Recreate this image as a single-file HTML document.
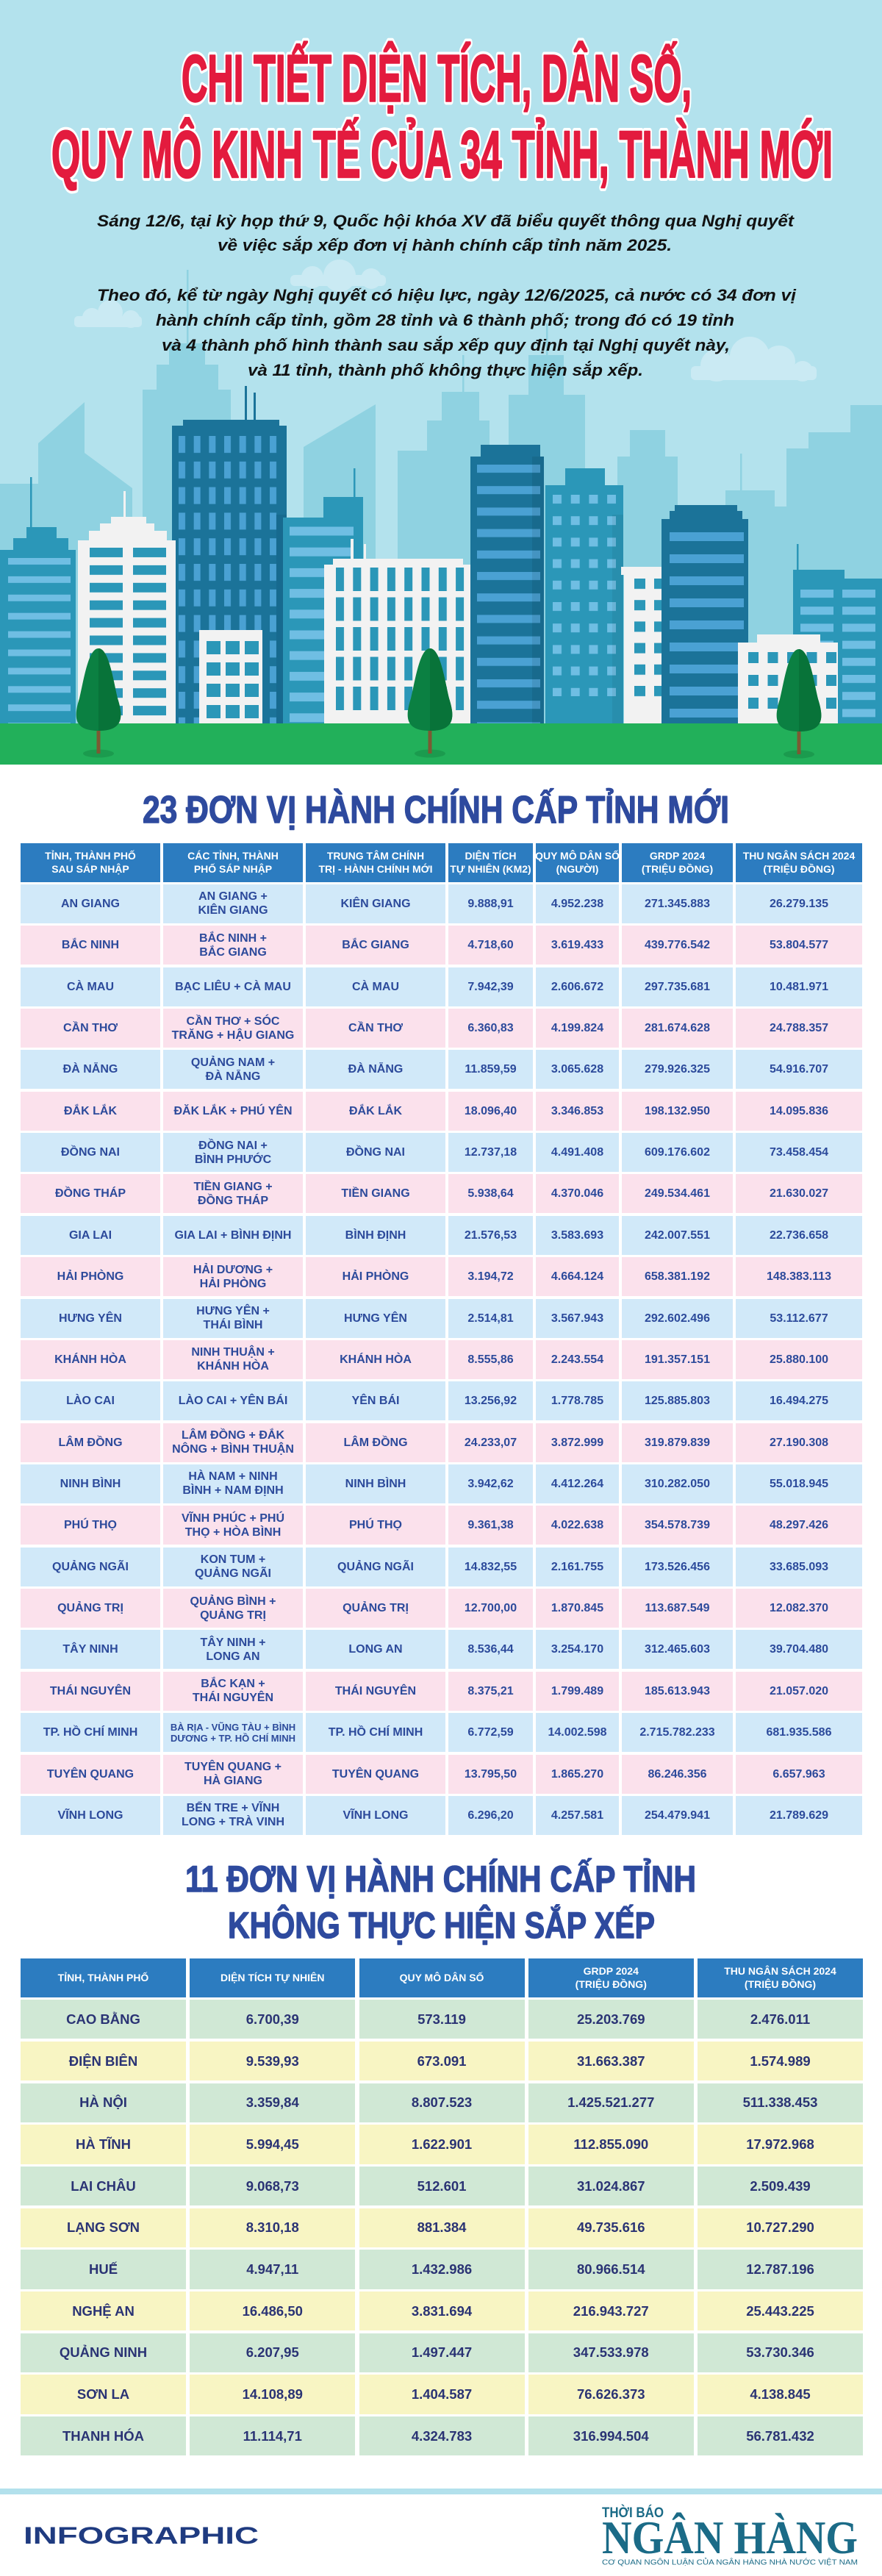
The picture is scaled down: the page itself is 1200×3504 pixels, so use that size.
<!DOCTYPE html>
<html lang="vi">
<head>
<meta charset="utf-8">
<style>
html,body{margin:0;padding:0;}
body{width:1200px;height:3504px;position:relative;overflow:hidden;background:#fff;font-family:"Liberation Sans","Noto Sans CJK SC",sans-serif;}
svg.bg{position:absolute;left:0;top:0;}
.grid{position:absolute;display:grid;}
.t1{left:28px;top:1146.6px;grid-template-columns:190px 190px 190px 115px 113px 151px 172px;column-gap:4px;row-gap:3.36px;grid-auto-rows:53px;}
.t2{left:28px;top:2663.5px;grid-template-columns:225px 225px 225px 225px 225px;column-gap:5.25px;row-gap:3.4px;grid-auto-rows:53.3px;}
.h,.r>div{display:flex;align-items:center;justify-content:center;text-align:center;white-space:nowrap;font-weight:bold;}
.h{background:#2c7cc0;color:#fff;font-size:14px;line-height:18px;}
.r{display:contents;}
.t1 .r>div{font-size:16px;line-height:19px;color:#2c4a9b;}
.t1 .b>div{background:#d1e9f9;}
.t1 .p>div{background:#fbe1ec;}
.t1 .r>div.s{font-size:13px;line-height:15px;}
.t2 .r>div{font-size:18.5px;line-height:22px;color:#2a3374;}
.t2 .g>div{background:#d0e8d5;}
.t2 .y>div{background:#f8f5c3;}
</style>
</head>
<body>
<svg class="bg" width="1200" height="3504" viewBox="0 0 1200 3504" xmlns="http://www.w3.org/2000/svg">
<defs>
<pattern id="pTall" patternUnits="userSpaceOnUse" x="243" y="593" width="20.67" height="34.8"><rect width="9" height="23" fill="#4aa1d3"/></pattern>
<pattern id="pLeft" patternUnits="userSpaceOnUse" x="11" y="759" width="200" height="24.9"><rect width="85" height="9" fill="#6fbee3"/></pattern>
<pattern id="pWL" patternUnits="userSpaceOnUse" x="122" y="745" width="59" height="23.9"><rect width="45" height="13" fill="#2b97b8"/></pattern>
<pattern id="pMid" patternUnits="userSpaceOnUse" x="394" y="716.5" width="200" height="28.2"><rect width="87" height="12" fill="#6fbee3"/></pattern>
<pattern id="pSW" patternUnits="userSpaceOnUse" x="281" y="872" width="26" height="29"><rect width="19" height="18" fill="#2b97b8"/></pattern>
<pattern id="pCW" patternUnits="userSpaceOnUse" x="457" y="772" width="23.3" height="40.5"><rect width="11" height="32" fill="#2b97b8"/></pattern>
<pattern id="pD2" patternUnits="userSpaceOnUse" x="649" y="632" width="200" height="29.2"><rect width="86" height="11" fill="#4aa1d3"/></pattern>
<pattern id="pTe" patternUnits="userSpaceOnUse" x="752" y="673" width="24.7" height="29.2"><rect width="12" height="12" fill="#6fbee3"/></pattern>
<pattern id="pNW" patternUnits="userSpaceOnUse" x="863" y="787" width="27" height="29.2"><rect width="15" height="14" fill="#2b97b8"/></pattern>
<pattern id="pD3" patternUnits="userSpaceOnUse" x="911" y="724" width="200" height="30"><rect width="101" height="12" fill="#4aa1d3"/></pattern>
<pattern id="pWR" patternUnits="userSpaceOnUse" x="1018" y="887" width="26.5" height="31"><rect width="14" height="15" fill="#2b97b8"/></pattern>
<pattern id="pR" patternUnits="userSpaceOnUse" x="1089" y="802" width="57" height="23.2"><rect width="45" height="11" fill="#6fbee3"/></pattern>
<g id="tree">
<ellipse cx="0" cy="1025" rx="21" ry="5.5" fill="#1b9b4e"/>
<rect x="-2.5" y="985" width="5" height="40" fill="#7b5a33"/>
<path d="M0,882 C14,882 20,925 26,950 C34,975 34,994 0,994 C-34,994 -34,975 -26,950 C-20,925 -14,882 0,882 Z" fill="#0b8042"/>
<path d="M0,882 C14,882 20,925 26,950 C34,975 34,994 0,994 Z" fill="#087339"/>
</g>
</defs>

<!-- sky -->
<rect x="0" y="0" width="1200" height="1040" fill="#b3e2ed"/>

<!-- clouds -->
<g fill="#caeaf3">
<rect x="395" y="374" width="130" height="15" rx="6"/>
<circle cx="425" cy="377" r="15"/><circle cx="462" cy="375" r="22"/><circle cx="505" cy="379" r="14"/>
<rect x="101" y="430" width="92" height="15" rx="5"/>
<circle cx="125" cy="432" r="13"/><circle cx="150" cy="425" r="17"/><circle cx="178" cy="434" r="12"/>
<rect x="940" y="498" width="171" height="19" rx="6"/>
<circle cx="975" cy="497" r="22"/><circle cx="1020" cy="485" r="27"/><circle cx="1060" cy="492" r="22"/><circle cx="1092" cy="505" r="14"/>
</g>

<!-- far buildings -->
<g fill="#8fd2e1">
<rect x="0" y="658" width="52" height="330"/>
<polygon points="52,603 115,547 115,990 52,990"/>
<polygon points="115,616 180,664 180,990 115,990"/>
<rect x="194" y="530" width="120" height="460"/>
<rect x="213" y="496" width="84" height="40"/>
<rect x="230" y="467" width="49" height="40"/>
<rect x="254" y="367" width="2.5" height="102"/>
<polygon points="413,608 511,550 511,990 413,990"/>
<rect x="541" y="613" width="41" height="377"/>
<rect x="581" y="572" width="85" height="418"/>
<rect x="601" y="533" width="51" height="45"/>
<rect x="629" y="483" width="2.5" height="52"/>
<rect x="692" y="537" width="104" height="453"/>
<rect x="719" y="483" width="48" height="60"/>
<rect x="743" y="440" width="2.5" height="45"/>
<rect x="840" y="621" width="82" height="369"/>
<rect x="857" y="585" width="48" height="40"/>
<rect x="987" y="667" width="67" height="323"/>
<rect x="1007" y="617" width="2.5" height="52"/>
<rect x="1054" y="689" width="18" height="300"/>
<rect x="1070" y="610" width="130" height="380"/>
<rect x="1100" y="588" width="100" height="30"/>
<rect x="1157" y="551" width="43" height="40"/>
</g>

<!-- left teal building -->
<rect x="41" y="649" width="2.5" height="70" fill="#2b97b8"/>
<rect x="36" y="717" width="41" height="20" fill="#2b97b8"/>
<rect x="18" y="732" width="75" height="20" fill="#2b97b8"/>
<rect x="0" y="748" width="103" height="240" fill="#2b97b8"/>
<rect x="11" y="759" width="85" height="225" fill="url(#pLeft)"/>

<!-- tall dark building -->
<rect x="333" y="525" width="3" height="50" fill="#1b7399"/>
<rect x="345" y="534" width="3" height="40" fill="#1b7399"/>
<rect x="249" y="571" width="131" height="12" fill="#1b7399"/>
<rect x="234" y="579" width="156" height="410" fill="#1b7399"/>
<rect x="243" y="593" width="134" height="391" fill="url(#pTall)"/>
<rect x="376" y="700" width="14" height="290" fill="#176a8f"/>

<!-- white left building -->
<rect x="168" y="668" width="3" height="40" fill="#f2f2f2"/>
<rect x="151" y="703" width="48" height="12" fill="#f2f2f2"/>
<rect x="136" y="712" width="74" height="14" fill="#f2f2f2"/>
<rect x="121" y="722" width="106" height="16" fill="#f2f2f2"/>
<rect x="106" y="735" width="133" height="253" fill="#f2f2f2"/>
<rect x="122" y="745" width="105" height="230" fill="url(#pWL)"/>

<!-- mid teal building -->
<rect x="481" y="637" width="2.5" height="42" fill="#2b97b8"/>
<rect x="440" y="676" width="54" height="32" fill="#2b97b8"/>
<rect x="385" y="704" width="109" height="284" fill="#2b97b8"/>
<rect x="394" y="716" width="87" height="268" fill="url(#pMid)"/>

<!-- small white building -->
<rect x="271" y="857" width="86" height="131" fill="#f2f2f2"/>
<rect x="281" y="872" width="71" height="105" fill="url(#pSW)"/>

<!-- center white building -->
<rect x="477" y="733" width="4" height="32" fill="#f2f2f2"/>
<rect x="495" y="740" width="3" height="25" fill="#f2f2f2"/>
<rect x="453" y="760" width="177" height="12" fill="#f2f2f2"/>
<rect x="441" y="768" width="203" height="220" fill="#f2f2f2"/>
<rect x="457" y="772" width="175" height="194" fill="url(#pCW)"/>

<!-- dark building 2 -->
<rect x="654" y="605" width="81" height="20" fill="#1b7399"/>
<rect x="640" y="621" width="100" height="367" fill="#1b7399"/>
<rect x="649" y="632" width="86" height="352" fill="url(#pD2)"/>
<rect x="724" y="621" width="16" height="367" fill="#000" opacity="0.08"/>

<!-- teal building -->
<rect x="769" y="637" width="54" height="27" fill="#2b97b8"/>
<rect x="742" y="660" width="106" height="328" fill="#2b97b8"/>
<rect x="752" y="673" width="86" height="274" fill="url(#pTe)"/>
<rect x="833" y="700" width="15" height="288" fill="#000" opacity="0.06"/>

<!-- narrow white building -->
<rect x="845" y="771" width="75" height="11" fill="#f2f2f2"/>
<rect x="849" y="781" width="67" height="207" fill="#f2f2f2"/>
<rect x="863" y="787" width="42" height="161" fill="url(#pNW)"/>

<!-- dark building 3 -->
<rect x="918" y="687" width="85" height="12" fill="#1b7399"/>
<rect x="911" y="695" width="99" height="14" fill="#1b7399"/>
<rect x="900" y="706" width="118" height="282" fill="#1b7399"/>
<rect x="911" y="724" width="101" height="260" fill="url(#pD3)"/>

<!-- right teal building -->
<rect x="1084" y="740" width="2.5" height="38" fill="#2b97b8"/>
<rect x="1079" y="775" width="70" height="213" fill="#2b97b8"/>
<rect x="1147" y="787" width="53" height="201" fill="#2b97b8"/>
<rect x="1089" y="802" width="105" height="182" fill="url(#pR)"/>

<!-- white right building -->
<rect x="1030" y="863" width="86" height="14" fill="#f2f2f2"/>
<rect x="1004" y="874" width="136" height="114" fill="#f2f2f2"/>
<rect x="1018" y="887" width="120" height="80" fill="url(#pWR)"/>

<!-- ground -->
<rect x="0" y="984" width="1200" height="56" fill="#22b05a"/>

<!-- trees -->
<use href="#tree" x="134" y="0"/>
<use href="#tree" x="585" y="0"/>
<use href="#tree" x="1087" y="1"/>

<!-- main title -->
<g font-family="Liberation Sans, sans-serif" font-weight="bold" font-size="90" text-anchor="middle" stroke-linejoin="round">
<text x="594" y="137.5" textLength="694" lengthAdjust="spacingAndGlyphs" fill="#fff" stroke="#fff" stroke-width="10">CHI TIẾT DIỆN TÍCH, DÂN SỐ,</text>
<text x="594" y="137.5" textLength="694" lengthAdjust="spacingAndGlyphs" fill="#e31b3e" stroke="#e31b3e" stroke-width="2.5">CHI TIẾT DIỆN TÍCH, DÂN SỐ,</text>
<text x="601.5" y="241" textLength="1063" lengthAdjust="spacingAndGlyphs" fill="#fff" stroke="#fff" stroke-width="10">QUY MÔ KINH TẾ CỦA 34 TỈNH, THÀNH MỚI</text>
<text x="601.5" y="241" textLength="1063" lengthAdjust="spacingAndGlyphs" fill="#e31b3e" stroke="#e31b3e" stroke-width="2.5">QUY MÔ KINH TẾ CỦA 34 TỈNH, THÀNH MỚI</text>
</g>

<!-- intro text -->
<g font-family="Liberation Sans, sans-serif" font-weight="bold" font-style="italic" font-size="22" text-anchor="middle" fill="#111">
<text x="606" y="308" textLength="948" lengthAdjust="spacingAndGlyphs">Sáng 12/6, tại kỳ họp thứ 9, Quốc hội khóa XV đã biểu quyết thông qua Nghị quyết</text>
<text x="605" y="341" textLength="618" lengthAdjust="spacingAndGlyphs">về việc sắp xếp đơn vị hành chính cấp tỉnh năm 2025.</text>
<text x="607.5" y="409" textLength="951" lengthAdjust="spacingAndGlyphs">Theo đó, kể từ ngày Nghị quyết có hiệu lực, ngày 12/6/2025, cả nước có 34 đơn vị</text>
<text x="605.5" y="443" textLength="787" lengthAdjust="spacingAndGlyphs">hành chính cấp tỉnh, gồm 28 tỉnh và 6 thành phố; trong đó có 19 tỉnh</text>
<text x="606.5" y="477" textLength="773" lengthAdjust="spacingAndGlyphs">và 4 thành phố hình thành sau sắp xếp quy định tại Nghị quyết này,</text>
<text x="606" y="511" textLength="538" lengthAdjust="spacingAndGlyphs">và 11 tỉnh, thành phố không thực hiện sắp xếp.</text>
</g>

<!-- section titles -->
<g font-family="Liberation Sans, sans-serif" font-weight="bold" text-anchor="middle" fill="#2e4a9e" stroke="#2e4a9e" stroke-width="1.4" stroke-linejoin="round">
<text x="593" y="1119" font-size="52" textLength="798" lengthAdjust="spacingAndGlyphs">23 ĐƠN VỊ HÀNH CHÍNH CẤP TỈNH MỚI</text>
<text x="599.5" y="2573" font-size="50" textLength="695" lengthAdjust="spacingAndGlyphs">11 ĐƠN VỊ HÀNH CHÍNH CẤP TỈNH</text>
<text x="600.5" y="2636" font-size="50" textLength="581" lengthAdjust="spacingAndGlyphs">KHÔNG THỰC HIỆN SẮP XẾP</text>
</g>

<!-- footer -->
<rect x="0" y="3385" width="1200" height="8" fill="#b3e1ec"/>
<text x="32" y="3460" font-family="Liberation Sans, sans-serif" font-weight="bold" font-size="32" textLength="320" lengthAdjust="spacingAndGlyphs" fill="#1f3b80">INFOGRAPHIC</text>
<text x="819" y="3424" font-family="Liberation Sans, sans-serif" font-weight="bold" font-size="19" textLength="84" lengthAdjust="spacingAndGlyphs" fill="#1b6b87">THỜI BÁO</text>
<text x="819" y="3473" font-family="Liberation Serif, serif" font-weight="bold" font-size="64" textLength="348" lengthAdjust="spacingAndGlyphs" fill="#1b6b87">NGÂN HÀNG</text>
<text x="819" y="3488.5" font-family="Liberation Sans, sans-serif" font-size="10.5" textLength="348" lengthAdjust="spacingAndGlyphs" fill="#1b6b87">CƠ QUAN NGÔN LUẬN CỦA NGÂN HÀNG NHÀ NƯỚC VIỆT NAM</text>
</svg>

<div class="grid t1">
<div class="h">TỈNH, THÀNH PHỐ<br>SAU SÁP NHẬP</div>
<div class="h">CÁC TỈNH, THÀNH<br>PHỐ SÁP NHẬP</div>
<div class="h">TRUNG TÂM CHÍNH<br>TRỊ - HÀNH CHÍNH MỚI</div>
<div class="h">DIỆN TÍCH<br>TỰ NHIÊN (KM2)</div>
<div class="h">QUY MÔ DÂN SỐ<br>(NGƯỜI)</div>
<div class="h">GRDP 2024<br>(TRIỆU ĐỒNG)</div>
<div class="h">THU NGÂN SÁCH 2024<br>(TRIỆU ĐỒNG)</div>

<div class="r b"><div>AN GIANG</div><div>AN GIANG +<br>KIÊN GIANG</div><div>KIÊN GIANG</div><div>9.888,91</div><div>4.952.238</div><div>271.345.883</div><div>26.279.135</div></div>
<div class="r p"><div>BẮC NINH</div><div>BẮC NINH +<br>BẮC GIANG</div><div>BẮC GIANG</div><div>4.718,60</div><div>3.619.433</div><div>439.776.542</div><div>53.804.577</div></div>
<div class="r b"><div>CÀ MAU</div><div>BẠC LIÊU + CÀ MAU</div><div>CÀ MAU</div><div>7.942,39</div><div>2.606.672</div><div>297.735.681</div><div>10.481.971</div></div>
<div class="r p"><div>CẦN THƠ</div><div>CẦN THƠ + SÓC<br>TRĂNG + HẬU GIANG</div><div>CẦN THƠ</div><div>6.360,83</div><div>4.199.824</div><div>281.674.628</div><div>24.788.357</div></div>
<div class="r b"><div>ĐÀ NẴNG</div><div>QUẢNG NAM +<br>ĐÀ NẴNG</div><div>ĐÀ NẴNG</div><div>11.859,59</div><div>3.065.628</div><div>279.926.325</div><div>54.916.707</div></div>
<div class="r p"><div>ĐẮK LẮK</div><div>ĐĂK LẮK + PHÚ YÊN</div><div>ĐẮK LẮK</div><div>18.096,40</div><div>3.346.853</div><div>198.132.950</div><div>14.095.836</div></div>
<div class="r b"><div>ĐỒNG NAI</div><div>ĐỒNG NAI +<br>BÌNH PHƯỚC</div><div>ĐỒNG NAI</div><div>12.737,18</div><div>4.491.408</div><div>609.176.602</div><div>73.458.454</div></div>
<div class="r p"><div>ĐỒNG THÁP</div><div>TIỀN GIANG +<br>ĐỒNG THÁP</div><div>TIỀN GIANG</div><div>5.938,64</div><div>4.370.046</div><div>249.534.461</div><div>21.630.027</div></div>
<div class="r b"><div>GIA LAI</div><div>GIA LAI + BÌNH ĐỊNH</div><div>BÌNH ĐỊNH</div><div>21.576,53</div><div>3.583.693</div><div>242.007.551</div><div>22.736.658</div></div>
<div class="r p"><div>HẢI PHÒNG</div><div>HẢI DƯƠNG +<br>HẢI PHÒNG</div><div>HẢI PHÒNG</div><div>3.194,72</div><div>4.664.124</div><div>658.381.192</div><div>148.383.113</div></div>
<div class="r b"><div>HƯNG YÊN</div><div>HƯNG YÊN +<br>THÁI BÌNH</div><div>HƯNG YÊN</div><div>2.514,81</div><div>3.567.943</div><div>292.602.496</div><div>53.112.677</div></div>
<div class="r p"><div>KHÁNH HÒA</div><div>NINH THUẬN +<br>KHÁNH HÒA</div><div>KHÁNH HÒA</div><div>8.555,86</div><div>2.243.554</div><div>191.357.151</div><div>25.880.100</div></div>
<div class="r b"><div>LÀO CAI</div><div>LÀO CAI + YÊN BÁI</div><div>YÊN BÁI</div><div>13.256,92</div><div>1.778.785</div><div>125.885.803</div><div>16.494.275</div></div>
<div class="r p"><div>LÂM ĐỒNG</div><div>LÂM ĐỒNG + ĐẮK<br>NÔNG + BÌNH THUẬN</div><div>LÂM ĐỒNG</div><div>24.233,07</div><div>3.872.999</div><div>319.879.839</div><div>27.190.308</div></div>
<div class="r b"><div>NINH BÌNH</div><div>HÀ NAM + NINH<br>BÌNH + NAM ĐỊNH</div><div>NINH BÌNH</div><div>3.942,62</div><div>4.412.264</div><div>310.282.050</div><div>55.018.945</div></div>
<div class="r p"><div>PHÚ THỌ</div><div>VĨNH PHÚC + PHÚ<br>THỌ + HÒA BÌNH</div><div>PHÚ THỌ</div><div>9.361,38</div><div>4.022.638</div><div>354.578.739</div><div>48.297.426</div></div>
<div class="r b"><div>QUẢNG NGÃI</div><div>KON TUM +<br>QUẢNG NGÃI</div><div>QUẢNG NGÃI</div><div>14.832,55</div><div>2.161.755</div><div>173.526.456</div><div>33.685.093</div></div>
<div class="r p"><div>QUẢNG TRỊ</div><div>QUẢNG BÌNH +<br>QUẢNG TRỊ</div><div>QUẢNG TRỊ</div><div>12.700,00</div><div>1.870.845</div><div>113.687.549</div><div>12.082.370</div></div>
<div class="r b"><div>TÂY NINH</div><div>TÂY NINH +<br>LONG AN</div><div>LONG AN</div><div>8.536,44</div><div>3.254.170</div><div>312.465.603</div><div>39.704.480</div></div>
<div class="r p"><div>THÁI NGUYÊN</div><div>BẮC KẠN +<br>THÁI NGUYÊN</div><div>THÁI NGUYÊN</div><div>8.375,21</div><div>1.799.489</div><div>185.613.943</div><div>21.057.020</div></div>
<div class="r b"><div>TP. HỒ CHÍ MINH</div><div class="s">BÀ RỊA - VŨNG TÀU + BÌNH<br>DƯƠNG + TP. HỒ CHÍ MINH</div><div>TP. HỒ CHÍ MINH</div><div>6.772,59</div><div>14.002.598</div><div>2.715.782.233</div><div>681.935.586</div></div>
<div class="r p"><div>TUYÊN QUANG</div><div>TUYÊN QUANG +<br>HÀ GIANG</div><div>TUYÊN QUANG</div><div>13.795,50</div><div>1.865.270</div><div>86.246.356</div><div>6.657.963</div></div>
<div class="r b"><div>VĨNH LONG</div><div>BẾN TRE + VĨNH<br>LONG + TRÀ VINH</div><div>VĨNH LONG</div><div>6.296,20</div><div>4.257.581</div><div>254.479.941</div><div>21.789.629</div></div>
</div>

<div class="grid t2">
<div class="h">TỈNH, THÀNH PHỐ</div>
<div class="h">DIỆN TÍCH TỰ NHIÊN</div>
<div class="h">QUY MÔ DÂN SỐ</div>
<div class="h">GRDP 2024<br>(TRIỆU ĐỒNG)</div>
<div class="h">THU NGÂN SÁCH 2024<br>(TRIỆU ĐỒNG)</div>

<div class="r g"><div>CAO BẰNG</div><div>6.700,39</div><div>573.119</div><div>25.203.769</div><div>2.476.011</div></div>
<div class="r y"><div>ĐIỆN BIÊN</div><div>9.539,93</div><div>673.091</div><div>31.663.387</div><div>1.574.989</div></div>
<div class="r g"><div>HÀ NỘI</div><div>3.359,84</div><div>8.807.523</div><div>1.425.521.277</div><div>511.338.453</div></div>
<div class="r y"><div>HÀ TĨNH</div><div>5.994,45</div><div>1.622.901</div><div>112.855.090</div><div>17.972.968</div></div>
<div class="r g"><div>LAI CHÂU</div><div>9.068,73</div><div>512.601</div><div>31.024.867</div><div>2.509.439</div></div>
<div class="r y"><div>LẠNG SƠN</div><div>8.310,18</div><div>881.384</div><div>49.735.616</div><div>10.727.290</div></div>
<div class="r g"><div>HUẾ</div><div>4.947,11</div><div>1.432.986</div><div>80.966.514</div><div>12.787.196</div></div>
<div class="r y"><div>NGHỆ AN</div><div>16.486,50</div><div>3.831.694</div><div>216.943.727</div><div>25.443.225</div></div>
<div class="r g"><div>QUẢNG NINH</div><div>6.207,95</div><div>1.497.447</div><div>347.533.978</div><div>53.730.346</div></div>
<div class="r y"><div>SƠN LA</div><div>14.108,89</div><div>1.404.587</div><div>76.626.373</div><div>4.138.845</div></div>
<div class="r g"><div>THANH HÓA</div><div>11.114,71</div><div>4.324.783</div><div>316.994.504</div><div>56.781.432</div></div>
</div>
</body>
</html>
